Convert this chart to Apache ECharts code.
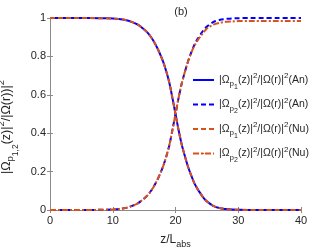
<!DOCTYPE html>
<html><head><meta charset="utf-8">
<script src="https://cdn.jsdelivr.net/npm/echarts@6/dist/echarts.min.js"></script>
<style>html,body{margin:0;padding:0;background:#fff}#c{width:332px;height:249px}</style>
</head><body><div id="c"></div>
<script>
const zValues = [0,2,4,6,8,10,11,12,13,14,15,15.5,16,16.5,17,17.5,18,18.5,19,19.5,20,20.5,21,21.5,22,22.5,23,23.5,24,24.5,25,26,27,28,29,30,32,34,36,38,40];
const p1An = [1,1,1,1,0.999,0.997,0.995,0.99,0.98,0.965,0.94,0.925,0.905,0.88,0.85,0.815,0.775,0.725,0.665,0.585,0.5,0.415,0.34,0.28,0.225,0.18,0.14,0.11,0.085,0.062,0.045,0.022,0.01,0.005,0.002,0.001,0,0,0,0,0];
const p2An = [0,0,0,0,0.001,0.003,0.005,0.01,0.02,0.035,0.06,0.075,0.095,0.12,0.15,0.185,0.225,0.275,0.335,0.415,0.5,0.585,0.66,0.72,0.775,0.82,0.86,0.89,0.915,0.938,0.955,0.978,0.99,0.995,0.998,0.999,1,1,1,1,1];
const p1Nu = [1,1,1,1,0.999,0.997,0.995,0.99,0.98,0.965,0.94,0.925,0.905,0.88,0.85,0.815,0.775,0.725,0.665,0.585,0.5,0.415,0.34,0.28,0.225,0.18,0.14,0.11,0.085,0.062,0.045,0.022,0.01,0.005,0.002,0.001,0,0,0,0,0];
const p2Nu = [0,0,0,0,0.001,0.003,0.005,0.01,0.02,0.035,0.06,0.075,0.095,0.12,0.15,0.185,0.225,0.275,0.335,0.415,0.5,0.585,0.66,0.72,0.775,0.818,0.855,0.882,0.905,0.926,0.945,0.965,0.975,0.98,0.982,0.984,0.985,0.985,0.985,0.985,0.985];
const seriesNames = ['p1An','p2An','p1Nu','p2Nu'];
const legendTexts = {
  p1An: '|Ω{s1|p}{s2|1}(z)|{sp|2}/|Ω(r)|{sp|2}(An)',
  p2An: '|Ω{s1|p}{s2|2}(z)|{sp|2}/|Ω(r)|{sp|2}(An)',
  p1Nu: '|Ω{s1|p}{s2|1}(z)|{sp|2}/|Ω(r)|{sp|2}(Nu)',
  p2Nu: '|Ω{s1|p}{s2|2}(z)|{sp|2}/|Ω(r)|{sp|2}(Nu)'
};
const BLUE = '#0000ff', ORANGE = '#d95319', AX = '#8a8a8a', TXT = '#262626';
const FONT = 'Liberation Sans';
const pairs = arr => zValues.map((z, i) => [z, arr[i]]);
const rich = {
  s1: {fontSize: 8, fontFamily: FONT, color: TXT, padding: [8, 0, 0, 0]},
  s2: {fontSize: 7, fontFamily: FONT, color: TXT, padding: [14, 0, 0, 0]},
  sp: {fontSize: 8, fontFamily: FONT, color: TXT, padding: [0, 0, 8, 0]}
};
const chart = echarts.init(document.getElementById('c'), null, {renderer: 'canvas'});
const axisCommon = {
  axisLine: {show: true, lineStyle: {color: AX, width: 1}},
  axisTick: {show: true, inside: true, length: 3, lineStyle: {color: AX}},
  splitLine: {show: false}
};
chart.setOption({
  animation: false,
  title: {text: '(b)', left: 176, top: 1, textAlign: 'center',
    textStyle: {fontSize: 11, fontWeight: 'normal', color: TXT, fontFamily: FONT}},
  grid: {left: 50, right: 31, top: 18, bottom: 39, containLabel: false, outerBoundsMode: 'none'},
  xAxis: [
    Object.assign({type: 'value', min: 0, max: 40, interval: 10, position: 'bottom',
      axisLabel: {fontSize: 11, color: TXT, fontFamily: FONT, margin: 5},
      name: 'z/L{sb|abs}', nameLocation: 'middle', nameGap: 21,
      nameTextStyle: {fontSize: 12, color: TXT, fontFamily: FONT,
        rich: {sb: {fontSize: 9, fontFamily: FONT, color: TXT, padding: [9, 0, 0, 0]}}}}, axisCommon),
    Object.assign({type: 'value', min: 0, max: 40, interval: 10, position: 'top',
      axisLabel: {show: false}}, axisCommon)
  ],
  yAxis: [
    Object.assign({type: 'value', min: 0, max: 1, interval: 0.2, position: 'left',
      axisLabel: {fontSize: 11, color: TXT, fontFamily: FONT, margin: 4},
      name: '|Ω{s1|p}{s2|1,2}(z)|{sp|2}/|Ω(r))|{sp|2}', nameLocation: 'middle', nameGap: 30, nameRotate: 90,
      nameTextStyle: {fontSize: 12.5, color: TXT, fontFamily: FONT, padding: [0, 26, 0, 0],
        rich: {
          s1: {fontSize: 9.5, fontFamily: FONT, color: TXT, padding: [8, 0, 0, 0]},
          s2: {fontSize: 8.5, fontFamily: FONT, color: TXT, padding: [18, 0, 0, 0]},
          sp: {fontSize: 9.5, fontFamily: FONT, color: TXT, padding: [0, 0, 10, 0]}
        }}}, axisCommon),
    Object.assign({type: 'value', min: 0, max: 1, interval: 0.2, position: 'right',
      axisLabel: {show: false}}, axisCommon)
  ],
  legend: {
    orient: 'vertical', left: 192, top: 72, itemWidth: 21, itemHeight: 2, itemGap: 6, padding: 0,
    data: seriesNames,
    formatter: name => legendTexts[name],
    textStyle: {fontSize: 10.5, color: TXT, fontFamily: FONT, rich: rich}
  },
  series: [
    {name: 'p1An', type: 'line', data: pairs(p1An), showSymbol: false, symbol: 'none', smooth: 0.3,
      lineStyle: {color: BLUE, width: 2, type: 'solid'}, itemStyle: {color: BLUE}},
    {name: 'p2An', type: 'line', data: pairs(p2An), showSymbol: false, symbol: 'none', smooth: 0.3,
      lineStyle: {color: BLUE, width: 2, type: [5, 3]}, itemStyle: {color: BLUE}},
    {name: 'p1Nu', type: 'line', data: pairs(p1Nu), showSymbol: false, symbol: 'none', smooth: 0.3,
      lineStyle: {color: ORANGE, width: 2, type: [5, 3]}, itemStyle: {color: ORANGE}},
    {name: 'p2Nu', type: 'line', data: pairs(p2Nu), showSymbol: false, symbol: 'none', smooth: 0.3,
      lineStyle: {color: ORANGE, width: 2, type: [6, 2, 2, 2]}, itemStyle: {color: ORANGE}}
  ]
});
</script>
</body></html>
